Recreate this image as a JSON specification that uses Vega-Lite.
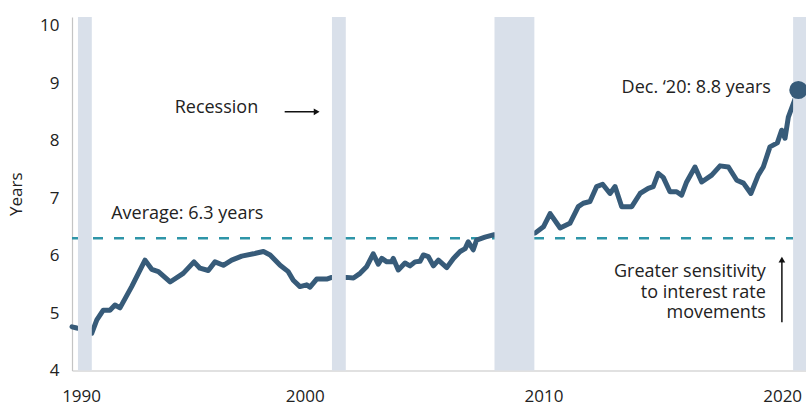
{
  "$schema": "https://vega.github.io/schema/vega-lite/v6.json",
  "width": 734,
  "height": 353.5,
  "autosize": {"type": "none"},
  "padding": {"left": 72, "top": 17, "right": 0, "bottom": 35.5},
  "background": "white",
  "config": {
    "view": {"stroke": null},
    "font": "Open Sans",
    "axis": {"labelFont": "Open Sans", "titleFont": "Open Sans", "labelColor": "#222", "titleColor": "#222", "domainColor": "#c4c4c4", "domainWidth": 1.2, "ticks": false, "grid": false}
  },
  "datasets": {
    "series": [
      {"yr": 1990.25, "v": 4.76}, {"yr": 1990.45, "v": 4.74}, {"yr": 1990.7, "v": 4.72}, {"yr": 1991.08, "v": 4.65},
      {"yr": 1991.29, "v": 4.88}, {"yr": 1991.56, "v": 5.05}, {"yr": 1991.84, "v": 5.05}, {"yr": 1992.05, "v": 5.14},
      {"yr": 1992.26, "v": 5.09}, {"yr": 1992.75, "v": 5.46}, {"yr": 1993.31, "v": 5.92}, {"yr": 1993.59, "v": 5.76},
      {"yr": 1993.87, "v": 5.72}, {"yr": 1994.36, "v": 5.54}, {"yr": 1994.91, "v": 5.69}, {"yr": 1995.36, "v": 5.89},
      {"yr": 1995.61, "v": 5.78}, {"yr": 1995.96, "v": 5.74}, {"yr": 1996.24, "v": 5.89}, {"yr": 1996.59, "v": 5.83},
      {"yr": 1996.94, "v": 5.92}, {"yr": 1997.36, "v": 5.99}, {"yr": 1997.85, "v": 6.03}, {"yr": 1998.27, "v": 6.07},
      {"yr": 1998.55, "v": 6.01}, {"yr": 1998.97, "v": 5.83}, {"yr": 1999.31, "v": 5.72}, {"yr": 1999.52, "v": 5.57},
      {"yr": 1999.8, "v": 5.46}, {"yr": 2000.08, "v": 5.49}, {"yr": 2000.22, "v": 5.45}, {"yr": 2000.5, "v": 5.59},
      {"yr": 2000.92, "v": 5.59}, {"yr": 2001.13, "v": 5.62}, {"yr": 2001.45, "v": 5.62}, {"yr": 2001.76, "v": 5.62},
      {"yr": 2002.04, "v": 5.61}, {"yr": 2002.32, "v": 5.69}, {"yr": 2002.6, "v": 5.81}, {"yr": 2002.87, "v": 6.03},
      {"yr": 2003.08, "v": 5.85}, {"yr": 2003.23, "v": 5.95}, {"yr": 2003.44, "v": 5.89}, {"yr": 2003.64, "v": 5.89},
      {"yr": 2003.71, "v": 5.95}, {"yr": 2003.92, "v": 5.75}, {"yr": 2004.2, "v": 5.87}, {"yr": 2004.41, "v": 5.82},
      {"yr": 2004.62, "v": 5.89}, {"yr": 2004.83, "v": 5.9}, {"yr": 2004.97, "v": 6.01}, {"yr": 2005.18, "v": 5.98},
      {"yr": 2005.39, "v": 5.82}, {"yr": 2005.6, "v": 5.92}, {"yr": 2005.95, "v": 5.79}, {"yr": 2006.23, "v": 5.95},
      {"yr": 2006.51, "v": 6.07}, {"yr": 2006.72, "v": 6.12}, {"yr": 2006.85, "v": 6.24}, {"yr": 2007.06, "v": 6.1},
      {"yr": 2007.2, "v": 6.27}, {"yr": 2007.55, "v": 6.32}, {"yr": 2007.9, "v": 6.36}, {"yr": 2008.7, "v": 6.35},
      {"yr": 2009.65, "v": 6.39}, {"yr": 2010.0, "v": 6.5}, {"yr": 2010.28, "v": 6.73}, {"yr": 2010.7, "v": 6.48},
      {"yr": 2011.11, "v": 6.56}, {"yr": 2011.46, "v": 6.85}, {"yr": 2011.67, "v": 6.91}, {"yr": 2011.95, "v": 6.94},
      {"yr": 2012.23, "v": 7.2}, {"yr": 2012.48, "v": 7.24}, {"yr": 2012.79, "v": 7.08}, {"yr": 2013.0, "v": 7.2},
      {"yr": 2013.28, "v": 6.85}, {"yr": 2013.7, "v": 6.85}, {"yr": 2014.05, "v": 7.08}, {"yr": 2014.39, "v": 7.17},
      {"yr": 2014.6, "v": 7.2}, {"yr": 2014.81, "v": 7.43}, {"yr": 2015.02, "v": 7.36}, {"yr": 2015.3, "v": 7.11},
      {"yr": 2015.58, "v": 7.11}, {"yr": 2015.79, "v": 7.05}, {"yr": 2016.0, "v": 7.28}, {"yr": 2016.35, "v": 7.54},
      {"yr": 2016.63, "v": 7.28}, {"yr": 2017.05, "v": 7.4}, {"yr": 2017.4, "v": 7.56}, {"yr": 2017.75, "v": 7.54},
      {"yr": 2018.1, "v": 7.31}, {"yr": 2018.38, "v": 7.26}, {"yr": 2018.69, "v": 7.08}, {"yr": 2019.0, "v": 7.4},
      {"yr": 2019.21, "v": 7.54}, {"yr": 2019.49, "v": 7.89}, {"yr": 2019.8, "v": 7.96}, {"yr": 2019.98, "v": 8.18},
      {"yr": 2020.12, "v": 8.04}, {"yr": 2020.26, "v": 8.41}, {"yr": 2020.68, "v": 8.88}
    ],
    "bands": [
      {"start": 1990.5, "end": 1991.08},
      {"start": 2001.14, "end": 2001.72},
      {"start": 2007.95, "end": 2009.62},
      {"start": 2020.46, "end": 2021.0}
    ],
    "average": [{"start": 1990.25, "end": 2020.46, "v": 6.3}],
    "last": [{"yr": 2020.68, "v": 8.88}],
    "labels": [
      {"text": "Recession", "yr": 1998.05, "v": 8.56, "align": "right"},
      {"text": "Average: 6.3 years", "yr": 1991.89, "v": 6.72, "align": "left"},
      {"text": "Dec. ‘20: 8.8 years", "yr": 2019.53, "v": 8.91, "align": "right"},
      {"text": "Greater sensitivity\nto interest rate\nmovements", "yr": 2019.32, "v": 5.71, "align": "right"}
    ],
    "arrowLines": [
      {"x1": 1999.16, "x2": 2000.5, "y1": 8.5, "y2": 8.5},
      {"x1": 2019.99, "x2": 2019.99, "y1": 4.84, "y2": 5.9}
    ],
    "arrowHeads": [
      {"yr": 2000.5, "v": 8.5, "shape": "triangle-right"},
      {"yr": 2019.99, "v": 5.93, "shape": "triangle-up"}
    ]
  },
  "layer": [
    {
      "data": {"name": "average"},
      "mark": {"type": "rule", "color": "#2e95a8", "strokeWidth": 2.5, "strokeDash": [10, 11]},
      "encoding": {
        "x": {"field": "start", "type": "quantitative", "scale": {"domain": [1990.25, 2021.0], "nice": false, "zero": false},
          "axis": {"title": null, "values": [1990.63, 2000, 2010, 2020], "labelExpr": "floor(datum.value) + ''", "labelFontSize": 17, "labelPadding": 18, "labelFlush": false}},
        "x2": {"field": "end"},
        "y": {"field": "v", "type": "quantitative", "scale": {"domain": [4, 10.15], "nice": false, "zero": false},
          "axis": {"title": "Years", "values": [4, 5, 6, 7, 8, 9, 10], "format": "d", "labelFontSize": 17, "labelPadding": 13, "titleFontSize": 17, "titleFontWeight": "normal", "titlePadding": 14}}
      }
    },
    {
      "data": {"name": "series"},
      "mark": {"type": "line", "color": "#375b79", "strokeWidth": 5, "strokeJoin": "round", "strokeCap": "round"},
      "encoding": {
        "x": {"field": "yr", "type": "quantitative"},
        "y": {"field": "v", "type": "quantitative"}
      }
    },
    {
      "data": {"name": "bands"},
      "mark": {"type": "rect", "color": "#d9e0ea", "opacity": 1},
      "encoding": {
        "x": {"field": "start", "type": "quantitative"},
        "x2": {"field": "end"}
      }
    },
    {
      "data": {"name": "last"},
      "mark": {"type": "point", "shape": "circle", "filled": true, "opacity": 1, "color": "#375b79", "size": 330},
      "encoding": {
        "x": {"field": "yr", "type": "quantitative"},
        "y": {"field": "v", "type": "quantitative"}
      }
    },
    {
      "data": {"name": "labels"},
      "transform": [{"filter": "datum.align == 'right'"}],
      "mark": {"type": "text", "fontSize": 18, "color": "#222", "baseline": "middle", "align": "right", "lineBreak": "\n", "lineHeight": 20.5},
      "encoding": {
        "x": {"field": "yr", "type": "quantitative"},
        "y": {"field": "v", "type": "quantitative"},
        "text": {"field": "text"}
      }
    },
    {
      "data": {"name": "labels"},
      "transform": [{"filter": "datum.align == 'left'"}],
      "mark": {"type": "text", "fontSize": 18, "color": "#222", "baseline": "middle", "align": "left"},
      "encoding": {
        "x": {"field": "yr", "type": "quantitative"},
        "y": {"field": "v", "type": "quantitative"},
        "text": {"field": "text"}
      }
    },
    {
      "data": {"name": "arrowLines"},
      "mark": {"type": "rule", "color": "#111", "strokeWidth": 1.5},
      "encoding": {
        "x": {"field": "x1", "type": "quantitative"},
        "x2": {"field": "x2"},
        "y": {"field": "y1", "type": "quantitative"},
        "y2": {"field": "y2"}
      }
    },
    {
      "data": {"name": "arrowHeads"},
      "mark": {"type": "point", "filled": true, "opacity": 1, "color": "#111", "size": 45},
      "encoding": {
        "x": {"field": "yr", "type": "quantitative"},
        "y": {"field": "v", "type": "quantitative"},
        "shape": {"field": "shape", "type": "nominal", "scale": null}
      }
    }
  ]
}
